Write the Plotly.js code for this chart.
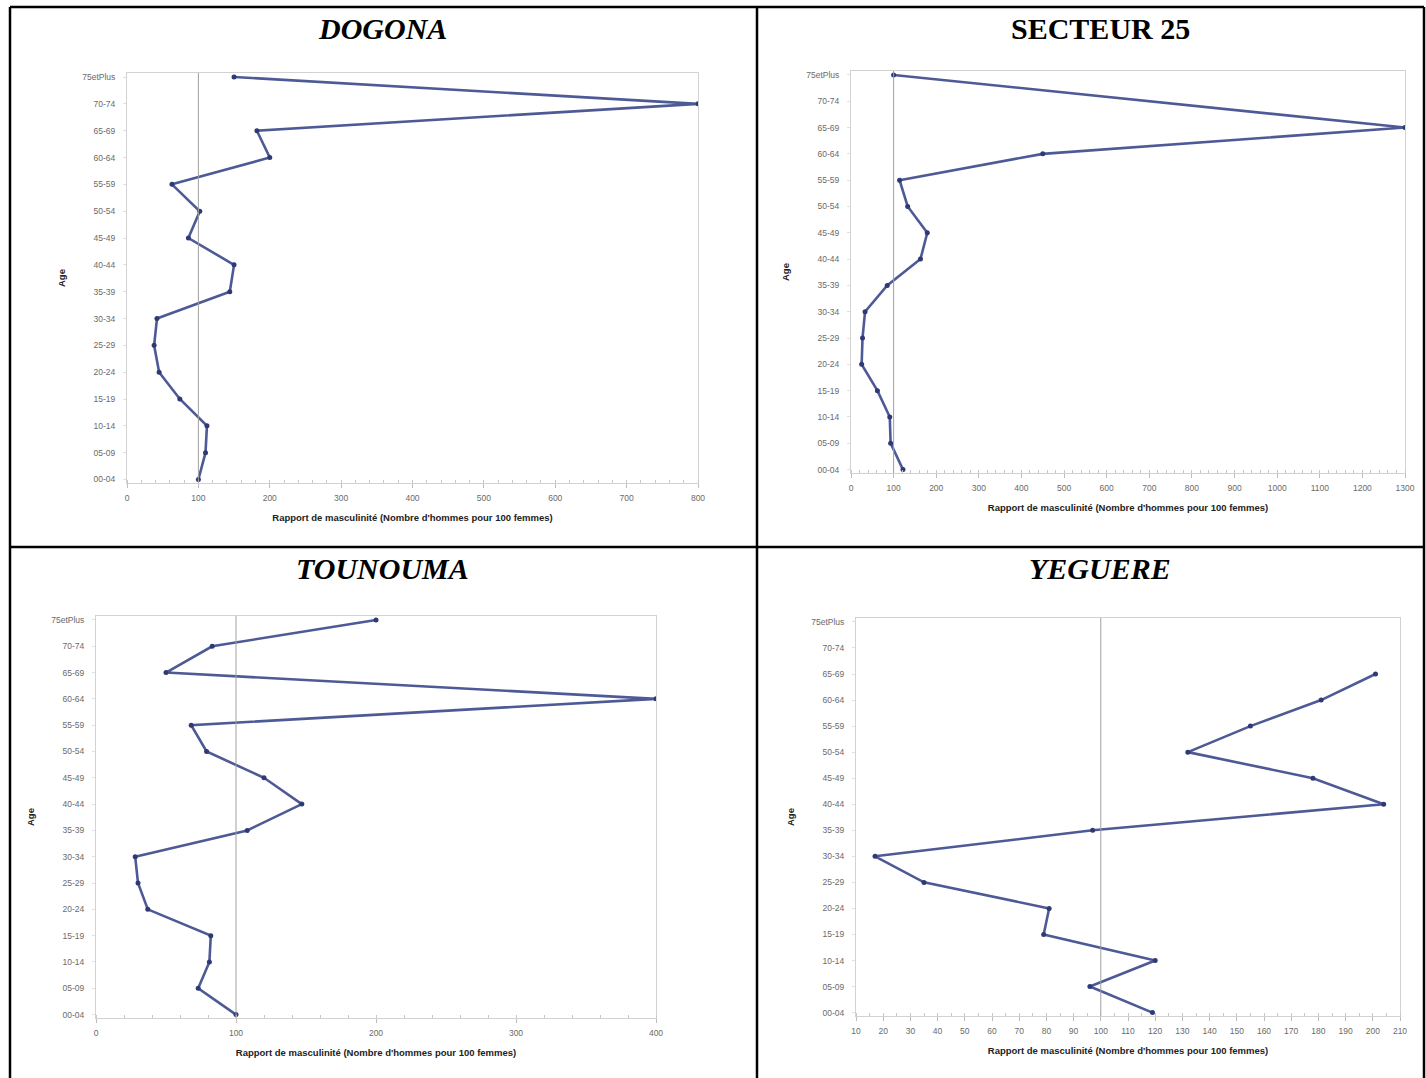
<!DOCTYPE html>
<html>
<head>
<meta charset="utf-8">
<script src="https://cdn.plot.ly/plotly-3.0.1.min.js"></script>
<style>
html,body{margin:0;padding:0;background:#fff;}
#chart{width:1426px;height:1078px;}
</style>
</head>
<body>
<div id="chart"></div>
<script>
// ---- data ----
const ages = ['00-04','05-09','10-14','15-19','20-24','25-29','30-34','35-39','40-44','45-49','50-54','55-59','60-64','65-69','70-74','75etPlus'];
const dogona    = [100,110,112,74,45,38,42,144,150,86,102,63,200,182,800,150];
const secteur25 = [122,93,91,62,25,27,33,85,163,179,133,114,450,1300,null,100];
const tounouma  = [100,73,81,82,37,30,28,108,147,120,79,68,400,50,83,200];
const yeguere   = [119,96,120,79,81,35,17,97,204,178,132,155,181,201,null,null];
const panelTitles = ['DOGONA','SECTEUR 25','TOUNOUMA','YEGUERE'];
const xTitle = "Rapport de masculinité (Nombre d'hommes pour 100 femmes)";
const yTitle = 'Age';
const refValue = 100;

// ---- layout helpers ----
const W = 1426, H = 1078;
const px = v => v / W;
const py = v => 1 - v / H;

const panels = [
  {data: dogona,    box:[127,698,73,483],  range:[0,800],  dtick:100, minor:20},
  {data: secteur25, box:[851,1405,71,473], range:[0,1300], dtick:100, minor:20},
  {data: tounouma,  box:[96,656,616,1018], range:[0,400],  dtick:100, minor:20},
  {data: yeguere,   box:[856,1400,618,1016],range:[10,210], dtick:10,  minor:5}
];

const lineColor = '#4d5a96';
const tickFont = {family:'Liberation Sans, Arial, sans-serif', size:8.5, color:'#6a6a6a'};
const titleFont = {family:'Liberation Sans, Arial, sans-serif', size:9.5, color:'#222', weight:'bold'};

const traces = [];
const layout = {
  width: W, height: H,
  margin: {l:0, r:0, t:0, b:0},
  paper_bgcolor: '#ffffff',
  plot_bgcolor: '#ffffff',
  showlegend: false,
  shapes: [],
  annotations: []
};

panels.forEach((p, i) => {
  const n = i === 0 ? '' : String(i + 1);
  traces.push({
    type: 'scatter',
    mode: 'lines+markers',
    x: p.data,
    y: ages,
    xaxis: 'x' + n,
    yaxis: 'y' + n,
    connectgaps: true,
    line: {color: lineColor, width: 2.6},
    marker: {color: '#2f3a74', size: 5},
    hoverinfo: 'x+y'
  });
  layout['xaxis' + n] = {
    domain: [px(p.box[0]), px(p.box[1])],
    anchor: 'y' + n,
    range: p.range,
    dtick: p.dtick,
    tick0: p.range[0],
    showgrid: false,
    zeroline: false,
    showline: true,
    mirror: true,
    linecolor: '#d2d2d2',
    linewidth: 1,
    ticks: 'outside',
    ticklen: 4,
    tickcolor: '#bdbdbd',
    minor: {dtick: p.minor, tick0: p.range[0], ticks: 'inside', ticklen: 3, tickcolor: '#c8c8c8', showgrid: false},
    tickfont: tickFont,
    ticklabelstandoff: 3,
    title: {text: xTitle, font: titleFont, standoff: 12},
    fixedrange: true
  };
  layout['yaxis' + n] = {
    domain: [py(p.box[3]), py(p.box[2])],
    anchor: 'x' + n,
    type: 'category',
    categoryorder: 'array',
    categoryarray: ages,
    range: [-0.13, 15.15],
    showgrid: false,
    zeroline: false,
    showline: true,
    mirror: true,
    linecolor: '#d2d2d2',
    linewidth: 1,
    ticks: 'outside',
    ticklen: 3,
    tickcolor: '#e0e0e0',
    tickfont: tickFont,
    ticklabelstandoff: 6,
    title: {text: yTitle, font: titleFont, standoff: 14},
    fixedrange: true
  };
  // reference line at 100
  layout.shapes.push({
    type: 'line', xref: 'x' + n, yref: 'y' + n + ' domain',
    x0: refValue, x1: refValue, y0: 0, y1: 1,
    line: {color: '#a0a0a0', width: 1}
  });
});

// table borders
const bl = {color:'#000', width:2.5};
[[10,7,1424,7],[10,7,10,1078],[1424,7,1424,1078],[757,7,757,1078],[10,547,1424,547]].forEach(s => {
  layout.shapes.push({type:'line', xref:'paper', yref:'paper', x0:px(s[0]), y0:py(s[1]), x1:px(s[2]), y1:py(s[3]), line:bl, layer:'above'});
});

// panel titles
const tpos = [[383,28,true],[1100,28,false],[383,568,true],[1100,568,true]];
panelTitles.forEach((t, i) => {
  layout.annotations.push({
    xref:'paper', yref:'paper', x:px(tpos[i][0]), y:py(tpos[i][1]),
    xanchor:'center', yanchor:'middle', showarrow:false,
    text: tpos[i][2] ? '<b><i>' + t + '</i></b>' : '<b>' + t + '</b>',
    font:{family:'Liberation Serif, Times New Roman, serif', size:30, color:'#000'}
  });
});

Plotly.newPlot('chart', traces, layout, {displayModeBar:false, staticPlot:true});
</script>
</body>
</html>
